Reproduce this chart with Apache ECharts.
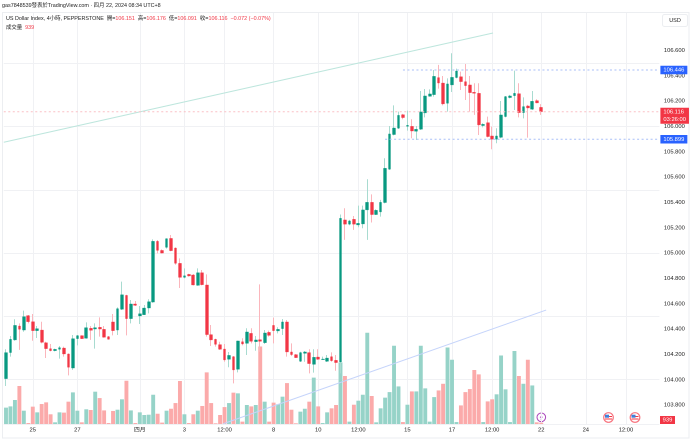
<!DOCTYPE html>
<html>
<head>
<meta charset="utf-8">
<style>html,body{margin:0;padding:0;background:#fff}#chart{width:692px;height:441px}</style>
<script src="https://cdn.jsdelivr.net/npm/echarts@6/dist/echarts.min.js"></script>
</head>
<body>
<div id="chart"></div>
<script>
var FONT = '"Liberation Sans","Noto Sans CJK TC",sans-serif';
var GREEN = '#089981', RED = '#f23645';

// 4h bars
var opens = [104.008,104.214,104.314,104.424,104.392,104.506,104.458,104.387,104.392,104.292,
104.245,104.229,104.240,104.250,104.203,104.092,104.324,104.348,104.327,104.406,
104.400,104.414,104.398,104.340,104.456,104.392,104.556,104.666,104.482,104.598,
104.503,104.513,104.566,104.613,105.093,105.021,105.045,105.116,105.040,104.919,
104.808,104.832,104.827,104.745,104.845,104.748,104.356,104.319,104.277,104.242,
104.161,104.182,104.082,104.300,104.287,104.366,104.300,104.316,104.292,104.374,
104.429,104.385,104.403,104.456,104.219,104.198,104.145,104.208,104.214,104.121,
104.179,104.158,104.145,104.182,104.153,104.140,105.262,105.228,105.267,105.222,
105.230,105.341,105.401,105.304,105.325,105.399,105.662,105.936,105.986,106.093,
106.001,106.001,105.962,105.978,106.107,106.238,106.251,106.386,106.343,106.183,
106.328,106.386,106.393,106.354,106.328,106.270,106.262,106.007,106.030,105.925,
105.899,105.914,106.078,106.228,106.243,106.259,106.109,106.162,106.136,106.204,106.151];
var closes = [104.214,104.319,104.429,104.398,104.498,104.458,104.387,104.403,104.295,104.245,
104.229,104.240,104.253,104.203,104.098,104.324,104.348,104.324,104.411,104.390,
104.411,104.400,104.335,104.319,104.387,104.561,104.671,104.482,104.598,104.587,
104.521,104.566,104.616,105.093,105.021,105.000,105.114,105.019,104.919,104.808,
104.821,104.819,104.748,104.845,104.750,104.356,104.314,104.279,104.240,104.156,
104.192,104.077,104.306,104.282,104.377,104.303,104.314,104.303,104.369,104.350,
104.387,104.398,104.456,104.219,104.198,104.174,104.214,104.219,104.127,104.177,
104.161,104.163,104.171,104.150,104.135,105.275,105.228,105.254,105.228,105.235,
105.341,105.401,105.304,105.338,105.401,105.670,105.941,105.988,106.088,106.070,
106.009,105.964,105.978,106.115,106.241,106.257,106.396,106.343,106.178,106.336,
106.388,106.438,106.354,106.322,106.267,106.262,106.012,106.017,105.920,105.899,
105.925,106.091,106.236,106.241,106.262,106.109,106.157,106.146,106.199,106.186,106.116];
var lows = [103.950,104.182,104.308,104.235,104.379,104.445,104.308,104.329,104.287,104.171,
104.224,104.224,104.166,104.182,104.034,104.077,104.271,104.321,104.324,104.314,
104.245,104.340,104.332,104.316,104.350,104.353,104.550,104.350,104.445,104.582,
104.440,104.511,104.524,104.608,104.998,104.998,105.035,105.014,104.908,104.724,
104.800,104.814,104.745,104.742,104.745,104.340,104.266,104.261,104.235,104.142,
104.098,103.971,104.058,104.271,104.195,104.287,104.229,104.221,104.282,104.340,
104.287,104.366,104.353,104.182,104.187,104.171,104.140,104.142,104.050,104.056,
104.156,104.156,104.140,104.142,104.071,104.050,105.104,105.220,105.183,105.204,
105.196,105.104,105.241,105.301,105.288,105.393,105.657,105.930,105.980,106.057,
105.967,105.907,105.893,105.972,106.072,106.236,106.236,106.299,106.167,106.117,
106.272,106.380,106.288,106.209,106.117,106.091,105.933,105.993,105.914,105.820,
105.867,105.907,106.072,106.222,106.130,106.072,106.064,105.912,106.130,106.183,106.091];
var highs = [104.240,104.345,104.477,104.445,104.545,104.511,104.519,104.424,104.458,104.300,
104.282,104.245,104.266,104.261,104.208,104.353,104.353,104.350,104.453,104.424,
104.445,104.492,104.424,104.345,104.519,104.571,104.774,104.671,104.629,104.621,
104.582,104.590,104.635,105.108,105.103,105.029,105.116,105.143,105.045,104.958,
104.879,104.837,104.835,104.879,104.866,104.832,104.432,104.324,104.300,104.282,
104.219,104.187,104.308,104.327,104.406,104.406,104.345,104.753,104.392,104.387,
104.490,104.414,104.479,104.471,104.287,104.203,104.221,104.227,104.240,104.240,
104.240,104.182,104.195,104.216,104.195,105.305,105.354,105.262,105.293,105.375,
105.375,105.583,105.464,105.346,105.420,105.749,106.004,106.167,106.117,106.099,
106.125,106.057,106.004,106.280,106.296,106.293,106.446,106.486,106.399,106.380,
106.578,106.457,106.433,106.493,106.399,106.341,106.341,106.025,106.078,105.999,
105.986,106.201,106.241,106.249,106.441,106.341,106.230,106.170,106.280,106.215,106.176];
// volume in thousands
var volumes = [11.8,12.7,17.3,27.4,9.6,0.7,12.5,8.4,14.4,15.6,
7.0,1.2,8.4,8.2,16.1,22.8,9.6,1.2,10.6,10.1,
23.3,18.7,9.8,0.7,9.4,10.3,17.8,31.2,9.8,0.7,
8.4,6.5,6.7,21.1,7.4,1.0,9.6,11.0,15.1,31.0,
7.0,0.7,7.0,9.6,13.0,37.2,15.1,0.5,6.5,12.2,
15.1,22.6,22.1,1.7,13.7,12.7,13.7,55.9,16.1,1.7,
15.4,14.2,19.7,29.5,10.3,0.5,8.9,11.0,16.1,33.4,
12.7,0.7,8.4,11.3,13.7,44.4,34.6,1.7,13.9,16.8,
21.1,65.8,20.2,1.2,11.3,19.0,23.0,56.4,27.1,1.4,
13.9,23.5,23.5,56.4,25.7,1.7,19.4,24.2,29.0,55.2,
46.3,1.4,13.4,23.0,25.2,38.9,35.8,1.4,16.3,17.8,
21.4,49.4,25.0,1.4,52.6,34.6,29.0,46.3,27.8,1.2,0.939];

var priceTicks = [103.8,104,104.2,104.4,104.6,104.8,105,105.2,105.4,105.6,105.8,106,106.2,106.4,106.6];
var timeTickSlots = [6,16,30,40,49,60,70,79,90,100,109,120,130,139];
var timeTickLabels = ['25','27','四月','3','12:00','8','10','12:00','15','17','12:00','22','24','12:00'];

// drawn lines: [bar slot, price]
var greenTrend = [[-0.5,105.875],[109.2,106.738]];
var blueTrend = [[48.7,103.652],[121.1,104.550]];
var resistance = [[89,106.446],[146.5,106.446]];
var support = [[85,105.899],[146.5,105.899]];
var lastPrice = [[-0.5,106.116],[146.5,106.116]];

var SLOTS = 147;

init();

function init() {
    var chart = echarts.init(document.getElementById('chart'), null, {renderer: 'canvas', devicePixelRatio: 2});
    chart.setOption(makeOptions());
}

function makeOptions() {
    var categories = [];
    for (var i = 0; i < SLOTS; i++) {
        var at = timeTickSlots.indexOf(i);
        categories.push(at >= 0 ? timeTickLabels[at] : '');
    }
    var isTick = function (index) { return timeTickSlots.indexOf(index) >= 0; };

    var wickData = [], bodyData = [], volumeData = [];
    for (var j = 0; j < opens.length; j++) {
        var up = closes[j] >= opens[j];
        wickData.push([opens[j], closes[j], lows[j], highs[j]]);
        bodyData.push([opens[j], closes[j], Math.min(opens[j], closes[j]), Math.max(opens[j], closes[j])]);
        volumeData.push({value: volumes[j], itemStyle: {color: up ? '#96d3c8' : '#fbaaaa'}});
    }

    return {
        animation: false,
        backgroundColor: '#fff',
        textStyle: {fontFamily: FONT},
        grid: [
            {left: 3.77, right: 32.6, top: 12, bottom: 17},
            {left: 3.77, right: 32.6, top: 320, bottom: 17}
        ],
        xAxis: [
            {
                type: 'category', gridIndex: 0, data: categories,
                axisLine: {show: false}, axisTick: {show: false},
                axisLabel: {interval: 0, margin: 3, fontSize: 5.8, color: '#222', fontFamily: FONT},
                splitLine: {show: true, interval: isTick, alignWithLabel: true, lineStyle: {color: '#f0f1f4', width: 1}}
            },
            {type: 'category', gridIndex: 1, data: categories, show: false},
            {type: 'value', gridIndex: 0, min: -0.5, max: SLOTS - 0.5, show: false, splitLine: {show: false}}
        ],
        yAxis: [
            {
                type: 'value', gridIndex: 0, position: 'right', scale: true,
                min: 103.65, max: 106.904,
                axisLine: {show: false}, axisTick: {show: false},
                axisLabel: {
                    margin: 4.5, fontSize: 5.8, color: '#222', fontFamily: FONT,
                    customValues: priceTicks,
                    formatter: function (v) { return v.toFixed(3); }
                },
                splitLine: {show: true, lineStyle: {color: '#f0f1f4', width: 1}}
            },
            {type: 'value', gridIndex: 1, min: 0, max: 75, show: false}
        ],
        series: [
            {
                name: 'volume', type: 'bar', xAxisIndex: 1, yAxisIndex: 1, z: 2,
                barWidth: 3.9, data: volumeData
            },
            trendLine('green trend', greenTrend, '#bde6dd', 'solid'),
            trendLine('blue trend', blueTrend, '#c5d4fb', 'solid'),
            {
                name: 'wick', type: 'candlestick', xAxisIndex: 0, yAxisIndex: 0, z: 4, barWidth: 1,
                itemStyle: {color: '#a8dbd0', color0: '#fbb6bc', borderColor: '#a8dbd0', borderColor0: '#fbb6bc', borderWidth: 1},
                data: wickData
            },
            {
                name: 'body', type: 'candlestick', xAxisIndex: 0, yAxisIndex: 0, z: 5, barWidth: 3.2,
                itemStyle: {color: GREEN, color0: RED, borderColor: GREEN, borderColor0: RED, borderWidth: 0.3},
                data: bodyData
            },
            levelLine('resistance', resistance, '#a9bff8', '#2962ff', '106.446', 0),
            levelLine('support', support, '#a9bff8', '#2962ff', '105.899', 0),
            levelLine('last', lastPrice, '#fbc1c6', RED, '106.116\n03:26:00', 4)
        ],
        graphic: makeOverlay()
    };
}

function trendLine(name, data, color, type) {
    return {
        name: name, type: 'line', xAxisIndex: 2, yAxisIndex: 0, z: 6,
        symbol: 'none', silent: true, data: data,
        lineStyle: {color: color, width: 1, type: type}
    };
}

function levelLine(name, data, color, boxColor, text, dy) {
    var line = trendLine(name, data, color, [2, 2.5]);
    line.endLabel = {
        show: true, formatter: text, distance: 1, color: '#fff', offset: [0, dy],
        fontSize: 5.8, lineHeight: 7.5, fontFamily: FONT, align: 'left',
        backgroundColor: boxColor, padding: [0.5, 3, 0.5, 3]
    };
    line.z = 7;
    return line;
}

function makeOverlay() {
    var font = '5.4px ' + FONT;
    return [
        {type: 'rect', shape: {x: 2.5, y: 12.5, width: 686.5, height: 425.5}, z: 1,
            style: {fill: 'none', stroke: '#eceef1', lineWidth: 1}},
        {type: 'text', x: 2, y: 3, z: 20, style: {
            text: 'gas7848539發表於TradingView.com · 四月 22, 2024 08:34 UTC+8',
            font: font, fill: '#222'}},
        {type: 'text', x: 6, y: 16, z: 20, style: {
            text: 'US Dollar Index, 4小時, PEPPERSTONE  {k|開}={v|106.151}  {k|高}={v|106.176}  {k|低}={v|106.091}  {k|收}={v|106.116}  {v|−0.072 (−0.07%)}',
            font: font, fill: '#222',
            rich: {k: {fill: '#222', font: font}, v: {fill: RED, font: font}}}},
        {type: 'text', x: 6, y: 25, z: 20, style: {
            text: '成交量  {v|939}', font: font, fill: '#222',
            rich: {v: {fill: RED, font: font}}}},
        {type: 'rect', shape: {x: 662.5, y: 14.5, width: 25, height: 12, r: 2}, z: 20,
            style: {fill: '#fff', stroke: '#eceef1', lineWidth: 1}},
        {type: 'text', x: 675, y: 20.5, z: 21, style: {
            text: 'USD', font: '5.5px ' + FONT, fill: '#222', align: 'center', verticalAlign: 'middle'}},
        {type: 'rect', shape: {x: 660, y: 416, width: 15, height: 8}, z: 20, style: {fill: RED}},
        {type: 'text', x: 667.5, y: 420, z: 21, style: {
            text: '939', font: '5.8px ' + FONT, fill: '#fff', align: 'center', verticalAlign: 'middle'}},
        // marker on the last bar
        {type: 'group', x: 541.3, y: 417.3, z: 22, children: [
            {type: 'circle', shape: {r: 4.3}, style: {fill: '#fff', stroke: '#ab47bc', lineWidth: 1}},
            {type: 'polygon', shape: {points: [[0.8, -3], [-1.6, 0.4], [-0.2, 0.4], [-0.8, 3], [1.6, -0.6], [0.2, -0.6]]},
                style: {fill: '#ab47bc'}}
        ]},
        flag(608.5), flag(635)
    ];
}

function flag(x) {
    return {type: 'group', x: x, y: 417.5, z: 22, children: [
        {type: 'circle', shape: {r: 4.8}, style: {fill: '#fff', stroke: '#f8747f', lineWidth: 1.2}},
        {type: 'rect', shape: {x: -3.5, y: -2.8, width: 4, height: 3}, style: {fill: '#3f7fd9'}},
        {type: 'rect', shape: {x: -3.5, y: 1, width: 7, height: 1}, style: {fill: '#f23645'}},
        {type: 'rect', shape: {x: 0.5, y: -1.5, width: 3, height: 1}, style: {fill: '#f23645'}}
    ]};
}
</script>
</body>
</html>
